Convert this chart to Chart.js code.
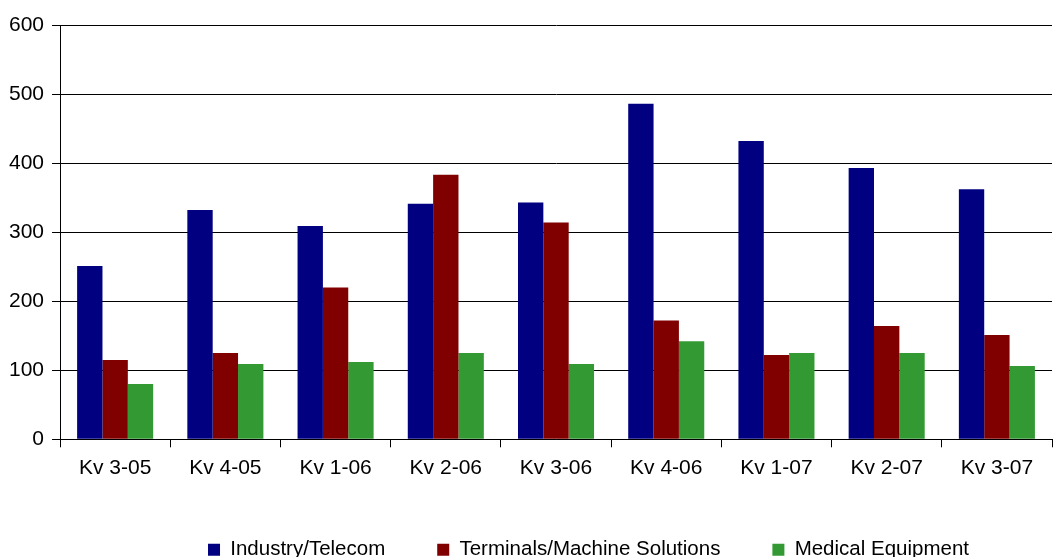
<!DOCTYPE html>
<html>
<head>
<meta charset="utf-8">
<script src="https://cdn.jsdelivr.net/npm/chart.js@4/dist/chart.umd.min.js"></script>
<style>
  html, body { margin: 0; padding: 0; background: #fff; }
  #wrap { width: 1057px; height: 557px; }
</style>
</head>
<body>
<div id="wrap"><canvas id="bar-chart"></canvas></div>
<script>
var kvartal = ['Kv 3-05', 'Kv 4-05', 'Kv 1-06', 'Kv 2-06', 'Kv 3-06', 'Kv 4-06', 'Kv 1-07', 'Kv 2-07', 'Kv 3-07'];
var industryTelecom = [251, 332, 309, 341, 343, 486, 432, 393, 362];
var terminals = [115, 125, 220, 383, 314, 172, 122, 164, 151];
var medical = [80, 109, 112, 125, 109, 142, 125, 125, 106];
var yTicks = [0, 100, 200, 300, 400, 500, 600];

Chart.defaults.font.family = '"Liberation Sans", Arial, sans-serif';
Chart.defaults.font.size = 21;
Chart.defaults.color = '#000';

// the legend in the original sits a bit right of centre and lower
var flyttaLegend = {
    id: 'flyttaLegend',
    afterLayout: function (chart) {
        var lg = chart.legend;
        lg.left += 62; lg.right += 62;
        lg.top += 13; lg.bottom += 13;
    }
};

var ctx = document.getElementById('bar-chart');
var barChart = new Chart(ctx, {
    type: 'bar',
    data: {
        labels: kvartal,
        datasets: [{
            label: 'Industry/Telecom',
            data: industryTelecom,
            backgroundColor: '#000080'
        }, {
            label: 'Terminals/Machine Solutions',
            data: terminals,
            backgroundColor: '#800000'
        }, {
            label: 'Medical Equipment',
            data: medical,
            backgroundColor: '#339933'
        }]
    },
    plugins: [flyttaLegend],
    options: {
        responsive: true,
        maintainAspectRatio: false,
        animation: false,
        layout: { padding: { top: 25, right: 5, left: 1, bottom: 0 } },
        datasets: {
            bar: { categoryPercentage: 0.69, barPercentage: 1.0 }
        },
        plugins: {
            tooltip: { enabled: false },
            legend: {
                position: 'bottom',
                labels: {
                    boxWidth: 12,
                    boxHeight: 12,
                    padding: 52,
                    font: { size: 20.5 }
                }
            }
        },
        scales: {
            x: {
                offset: true,
                afterFit: function (scale) {
                    scale.height -= 14;
                },
                grid: {
                    offset: true,
                    drawOnChartArea: false,
                    color: '#000',
                    tickLength: 8
                },
                border: { color: '#000', width: 1 },
                ticks: { padding: 8, maxRotation: 0 }
            },
            y: {
                min: 0,
                max: 600,
                afterBuildTicks: function (axis) {
                    axis.ticks = yTicks.map(function (v) { return { value: v }; });
                },
                grid: {
                    color: '#000',
                    tickLength: 8
                },
                border: { color: '#000', width: 1 },
                ticks: { padding: 8 }
            }
        }
    }
});
</script>
</body>
</html>
